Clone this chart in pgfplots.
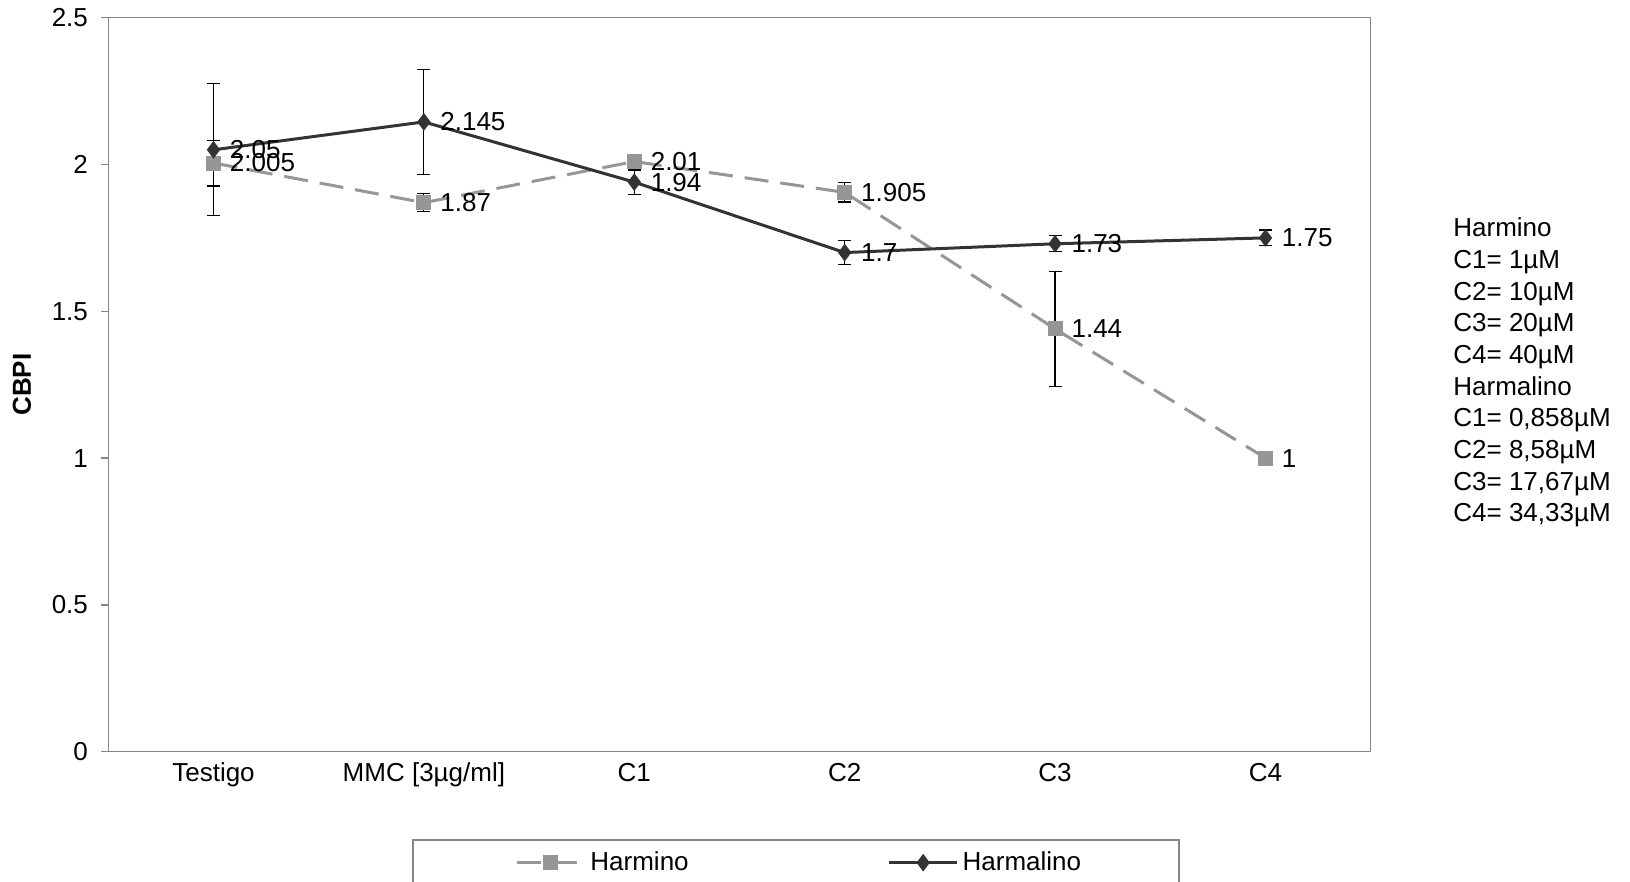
\documentclass[border=0pt]{standalone}
\usepackage{pgfplots}
\pgfplotsset{compat=1.18}
\usepackage{pgfplotstable}
\usepackage{fontspec}
\setmainfont{Liberation Sans}
\definecolor{harmino}{HTML}{969696}
\definecolor{harmalino}{HTML}{333333}
\definecolor{axgray}{HTML}{868686}
\newcommand\cf{\fontsize{13}{15.6}\selectfont}

\pgfplotstableread{
x y err lab
0 2.005 0.078 2.005
1 1.87 0.030 1.87
2 2.01 0.012 2.01
3 1.905 0.033 1.905
4 1.44 0.196 1.44
5 1.0 0.005 1
}\harmino

\pgfplotstableread{
x y err lab
0 2.05 0.225 2.05
1 2.145 0.178 2.145
2 1.94 0.041 1.94
3 1.7 0.041 1.7
4 1.73 0.027 1.73
5 1.75 0.027 1.75
}\harmalino

\begin{document}
\begin{tikzpicture}
\useasboundingbox (-54.15pt,-65.15pt) rectangle (760.85pt,375.85pt);
\begin{axis}[
  name=ax, at={(0pt,0pt)}, anchor=south west,
  scale only axis, width=631.2pt, height=367pt,
  xmin=-0.5, xmax=5.5, ymin=0, ymax=2.5,
  xtick={0,1,2,3,4,5},
  xticklabels={Testigo, MMC [3µg/ml], C1, C2, C3, C4},
  ytick={0,0.5,1,1.5,2,2.5},
  /pgf/number format/assume math mode=true,
  axis line style={axgray, line width=0.75pt},
  tick align=outside, ytick pos=left, major tick length=3.5pt,
  ytick style={axgray, line width=0.75pt},
  xtick style={draw=none},
  tick label style={font=\cf, text=black},
  yticklabel style={inner sep=0pt, xshift=-6.5pt},
  xticklabel style={anchor=north, inner sep=0pt, text height=9.3pt, yshift=-2.0pt},
  ylabel={\textbf{CBPI}},
  every axis y label/.style={at={(axis description cs:-0.06836,0.5)}, rotate=90, anchor=center, font=\cf},
  clip=false,
  legend style={at={(axis description cs:0.3222,-0.1512)}, anchor=west, draw=none, fill=none,
    inner sep=0pt, font=\cf, legend columns=2,
    /tikz/every even column/.append style={column sep=97.5pt}},
  legend image code/.code={\draw[mark repeat=2, mark phase=2] plot coordinates {(0pt,0pt) (17pt,0pt) (34pt,0pt)};},
]
\addplot[harmino, line width=1.5pt, dash pattern=on 12pt off 6pt,
  mark=square*, mark size=3pt, mark options={solid, fill=harmino, draw=harmino},
  nodes near coords, point meta=explicit symbolic,
  every node near coord/.style={anchor=west, inner sep=0pt, xshift=7.5pt, font=\cf, text=black},
  error bars/y dir=both, error bars/y explicit,
  error bars/error bar style={black, line width=0.6pt, solid},
  error bars/error mark options={black, solid, line width=0.6pt, mark size=3.25pt, rotate=90}]
  table[x=x, y=y, y error=err, meta=lab] {\harmino};
\addlegendentry{Harmino}
\addplot[harmalino, line width=1.5pt,
  mark=diamond*, mark size=3.2pt, mark options={solid, fill=harmalino, draw=harmalino},
  nodes near coords, point meta=explicit symbolic,
  every node near coord/.style={anchor=west, inner sep=0pt, xshift=7.5pt, font=\cf, text=black},
  error bars/y dir=both, error bars/y explicit,
  error bars/error bar style={black, line width=0.6pt, solid},
  error bars/error mark options={black, solid, line width=0.6pt, mark size=3.25pt, rotate=90}]
  table[x=x, y=y, y error=err, meta=lab] {\harmalino};
\addlegendentry{Harmalino}
\end{axis}
\draw[axgray, line width=0.75pt] (152.35pt,-44.15pt) rectangle (535.35pt,-90pt);
\node[anchor=north west, inner sep=0pt, align=left, font=\fontsize{13}{15.85}\selectfont]
  at (672.35pt,267.15pt) {Harmino\\C1= 1µM\\C2= 10µM\\C3= 20µM\\C4= 40µM\\Harmalino\\C1= 0,858µM\\C2= 8,58µM\\C3= 17,67µM\\C4= 34,33µM};
\end{tikzpicture}
\end{document}
